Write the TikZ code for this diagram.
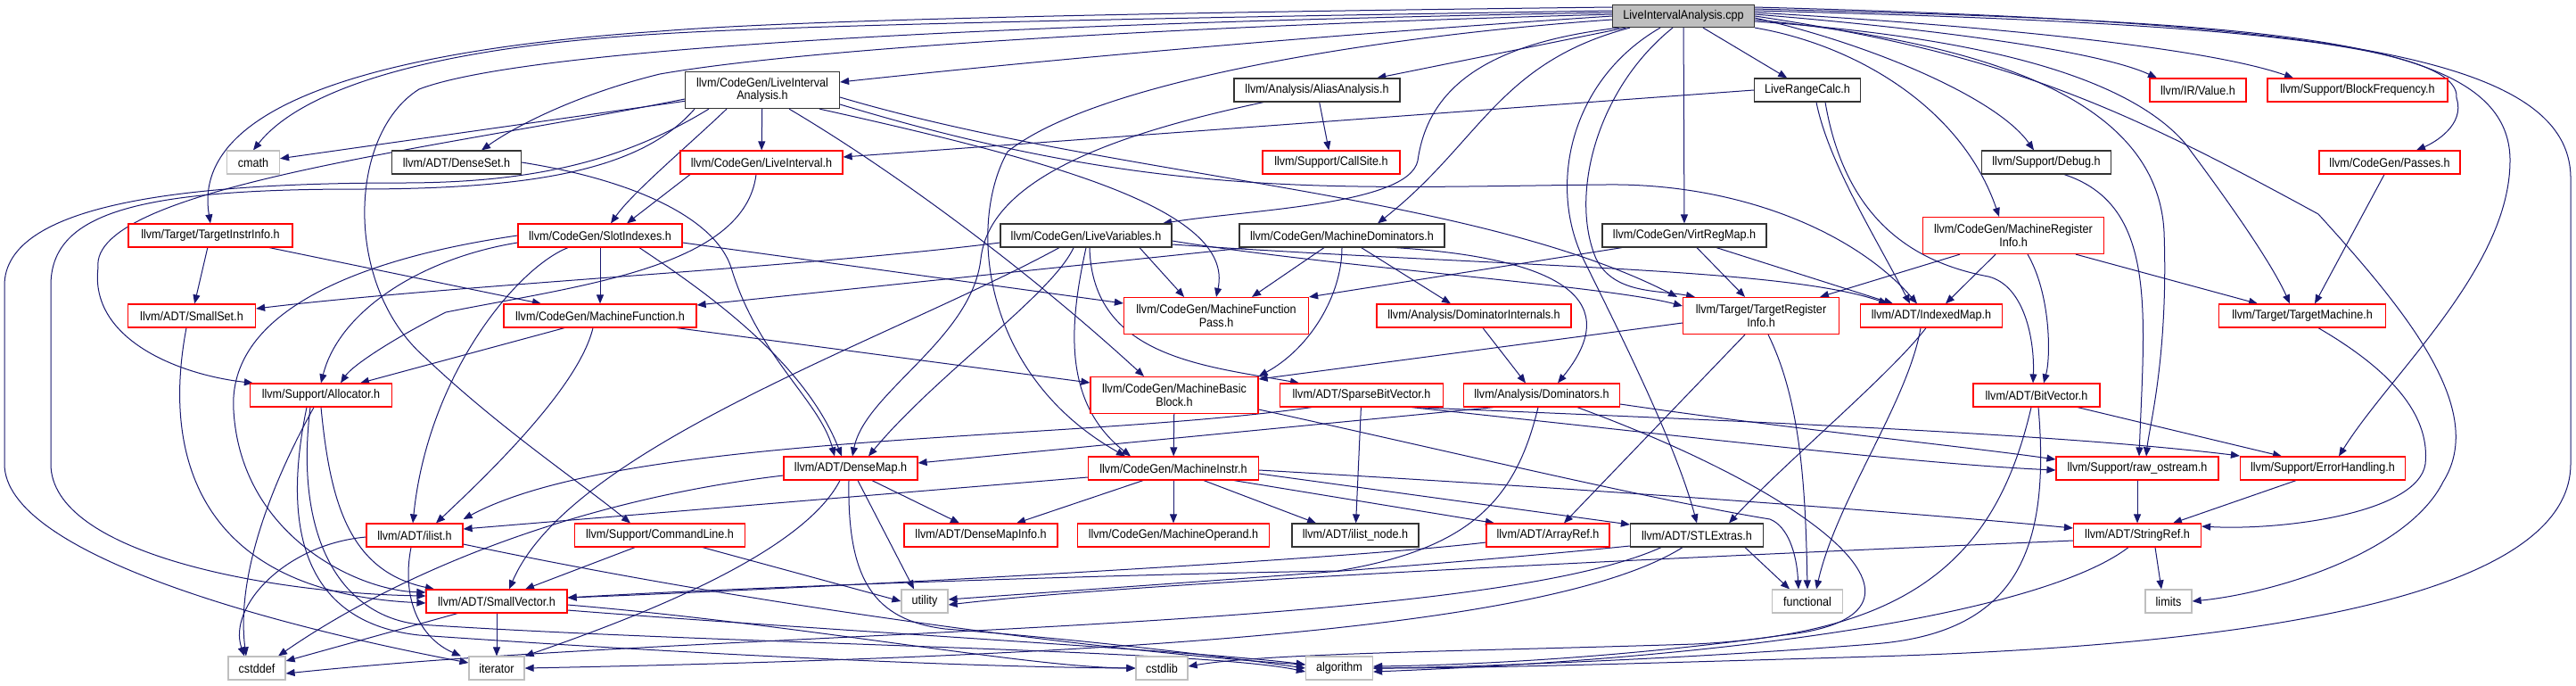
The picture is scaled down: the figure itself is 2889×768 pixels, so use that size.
\documentclass[tikz,border=0pt]{standalone}
\usepackage{fontspec}
\setmainfont{Liberation Sans}[FakeStretch=0.9]
\usetikzlibrary{arrows.meta}
\definecolor{edgec}{HTML}{191970}
\definecolor{grayb}{HTML}{BFBFBF}
\definecolor{redb}{HTML}{FF0000}
\pgfdeclarelayer{back}
\pgfdeclarelayer{bg}
\pgfsetlayers{back,bg,main}
\tikzset{
  nb/.style={draw, fill=white, line width=0.6pt, minimum height=13pt, inner sep=0pt,
    font=\fontsize{7}{7.3}\selectfont, align=center},
  rn/.style={nb, draw=redb},
  bn/.style={nb, draw=black!80},
  gn/.style={nb, draw=grayb},
  tl/.style={minimum height=20.5pt},
  ed/.style={draw=edgec, line width=0.5pt, -{Triangle[length=5pt,width=4pt]}}
}
\begin{document}
\begin{tikzpicture}[x=0.5pt,y=-0.5pt]
\useasboundingbox (0,0) rectangle (2889,768);
\begin{pgfonlayer}{back}
\fill[white] (0,0) rectangle (2889,768);
\end{pgfonlayer}
% nodes
\node[nb, draw=black!80, fill=grayb, minimum width=79.5pt, minimum height=12.5pt] (root) at (1888,18) {LiveIntervalAnalysis.cpp};
\node[bn, tl, minimum width=86.5pt] (lia) at (855,101) {llvm/CodeGen/LiveInterval\\Analysis.h};
\node[bn, minimum width=93pt] (aa) at (1477,101) {llvm/Analysis/AliasAnalysis.h};
\node[bn, minimum width=59.5pt] (lrc) at (2027,101) {LiveRangeCalc.h};
\node[rn, minimum width=54pt] (val) at (2465,101) {llvm/IR/Value.h};
\node[rn, minimum width=101pt] (bf) at (2644,101) {llvm/Support/BlockFrequency.h};
\node[gn, minimum width=29.5pt] (cmath) at (284,182) {cmath};
\node[bn, minimum width=72.5pt] (dset) at (512,182) {llvm/ADT/DenseSet.h};
\node[rn, minimum width=91pt] (li) at (854,182) {llvm/CodeGen/LiveInterval.h};
\node[rn, minimum width=77pt] (cs) at (1493,182) {llvm/Support/CallSite.h};
\node[bn, minimum width=72.5pt] (dbg) at (2295,182) {llvm/Support/Debug.h};
\node[rn, minimum width=79pt] (passes) at (2680,182) {llvm/CodeGen/Passes.h};
\node[rn, minimum width=92pt] (tii) at (236,264) {llvm/Target/TargetInstrInfo.h};
\node[rn, minimum width=92pt] (si) at (673,264) {llvm/CodeGen/SlotIndexes.h};
\node[bn, minimum width=96pt] (lv) at (1218,264) {llvm/CodeGen/LiveVariables.h};
\node[bn, minimum width=115pt] (md) at (1505,264) {llvm/CodeGen/MachineDominators.h};
\node[bn, minimum width=92pt] (vrm) at (1889,264) {llvm/CodeGen/VirtRegMap.h};
\node[rn, tl, minimum width=101.5pt] (mri) at (2258,264) {llvm/CodeGen/MachineRegister\\Info.h};
\node[rn, minimum width=71.5pt] (sset) at (215,354) {llvm/ADT/SmallSet.h};
\node[rn, minimum width=108pt] (mf) at (673,354) {llvm/CodeGen/MachineFunction.h};
\node[rn, tl, minimum width=103.5pt] (mfp) at (1364,354) {llvm/CodeGen/MachineFunction\\Pass.h};
\node[rn, minimum width=109pt] (di) at (1653,354) {llvm/Analysis/DominatorInternals.h};
\node[rn, tl, minimum width=87.5pt] (tri) at (1975,354) {llvm/Target/TargetRegister\\Info.h};
\node[rn, minimum width=79.5pt] (imap) at (2166,354) {llvm/ADT/IndexedMap.h};
\node[rn, minimum width=93.5pt] (tm) at (2582,354) {llvm/Target/TargetMachine.h};
\node[rn, minimum width=79.5pt] (alloc) at (360,443) {llvm/Support/Allocator.h};
\node[rn, tl, minimum width=94pt] (mbb) at (1317,443) {llvm/CodeGen/MachineBasic\\Block.h};
\node[rn, minimum width=91.5pt] (sbv) at (1527,443) {llvm/ADT/SparseBitVector.h};
\node[rn, minimum width=87.5pt] (dom) at (1729,443) {llvm/Analysis/Dominators.h};
\node[rn, minimum width=71pt] (bv) at (2284,443) {llvm/ADT/BitVector.h};
\node[rn, minimum width=75pt] (dmap) at (954,525) {llvm/ADT/DenseMap.h};
\node[rn, minimum width=95.5pt] (mi) at (1316,525) {llvm/CodeGen/MachineInstr.h};
\node[rn, minimum width=91pt] (rawos) at (2397,525) {llvm/Support/raw\_ostream.h};
\node[rn, minimum width=92.5pt] (eh) at (2605,525) {llvm/Support/ErrorHandling.h};
\node[rn, minimum width=54pt] (ilist) at (465,600) {llvm/ADT/ilist.h};
\node[rn, minimum width=95.5pt] (cl) at (740,600) {llvm/Support/CommandLine.h};
\node[rn, minimum width=86pt] (dmi) at (1100,600) {llvm/ADT/DenseMapInfo.h};
\node[rn, minimum width=107.5pt] (mo) at (1316,600) {llvm/CodeGen/MachineOperand.h};
\node[bn, minimum width=71pt] (iln) at (1520,600) {llvm/ADT/ilist\_node.h};
\node[rn, minimum width=69pt] (ar) at (1736,600) {llvm/ADT/ArrayRef.h};
\node[bn, minimum width=74.5pt] (stl) at (1903,600) {llvm/ADT/STLExtras.h};
\node[rn, minimum width=71.5pt] (sref) at (2397,600) {llvm/ADT/StringRef.h};
\node[rn, minimum width=79pt] (svec) at (557,674) {llvm/ADT/SmallVector.h};
\node[gn, minimum width=26pt] (utility) at (1037,674) {utility};
\node[gn, minimum width=39.5pt] (functional) at (2027,674) {functional};
\node[gn, minimum width=26pt] (limits) at (2432,674) {limits};
\node[gn, minimum width=32pt] (cstddef) at (288,749) {cstddef};
\node[gn, minimum width=31pt] (iterator) at (557,749) {iterator};
\node[gn, minimum width=29pt] (cstdlib) at (1303,749) {cstdlib};
\node[gn, minimum width=37.5pt] (algorithm) at (1502,749) {algorithm};

\begin{pgfonlayer}{bg}
% root, left side
\draw[ed] (root.west) .. controls (1400,45) and (1100,75) .. ([yshift=4.5pt]lia.east);
\draw[ed] ([yshift=3pt]root.west) .. controls (1300,20) and (900,28) .. (740,38) .. controls (450,55) and (330,110) .. (cmath.north);
\draw[ed] ([yshift=5pt]root.west) .. controls (1300,14) and (900,22) .. (740,35) .. controls (400,58) and (215,125) .. (tii.north);
\draw[ed] ([yshift=1pt]root.west) .. controls (1300,30) and (900,55) .. (740,83) .. controls (650,105) and (580,140) .. ([xshift=14pt]dset.north);
\draw[ed] ([yshift=2pt]root.west) .. controls (1200,25) and (600,50) .. (470,100) .. controls (390,150) and (385,320) .. (476,400) .. controls (560,480) and (650,540) .. ([xshift=-16.5pt]cl.north);
\draw[ed] ([yshift=-2pt]root.west) .. controls (1550,40) and (1230,90) .. (1130,170) .. controls (1085,250) and (1100,420) .. ([xshift=-27pt]mi.north);
\draw[ed] (root) -- (aa);
\draw[ed] (root) -- (lrc);
\draw[ed] (root) -- (vrm);
\draw[ed] ([xshift=-30pt]root.south) .. controls (1680,70) and (1660,160) .. ([xshift=20pt]md.north);
\draw[ed] ([xshift=-36pt]root.south) .. controls (1650,50) and (1600,110) .. (1590,180) .. controls (1580,230) and (1400,235) .. ([xshift=43pt]lv.north);
\draw[ed] ([xshift=-6pt]root.south) .. controls (1790,100) and (1760,220) .. (1790,290) .. controls (1810,330) and (1860,325) .. ([xshift=-37pt]tri.north);
\draw[ed] ([xshift=-13pt]root.south) .. controls (1760,90) and (1735,210) .. (1777,293) .. controls (1820,380) and (1880,500) .. (stl.north);
% root, right side
\draw[ed] ([yshift=1pt]root.east) .. controls (2200,35) and (2360,60) .. ([xshift=-23pt]val.north);
\draw[ed] ([yshift=2pt]root.east) .. controls (2250,30) and (2480,55) .. ([xshift=-36pt]bf.north);
\draw[ed] ([yshift=3pt]root.east) .. controls (2500,25) and (2760,50) .. (2755,110) .. controls (2765,140) and (2730,160) .. ([xshift=15pt]passes.north);
\draw[ed] ([yshift=4pt]root.east) .. controls (2550,25) and (2815,40) .. (2815,180) .. controls (2815,300) and (2680,420) .. ([xshift=9pt]eh.north);
\draw[ed] ([yshift=5pt]root.east) .. controls (2600,25) and (2883,60) .. (2883,200) -- (2883,520) .. controls (2883,640) and (2650,720) .. (2100,736) .. controls (1800,745) and (1650,749) .. (algorithm.east);
\draw[ed] (root.east) .. controls (2250,60) and (2380,120) .. (2600,240) .. controls (2700,350) and (2790,460) .. (2740,540) .. controls (2700,620) and (2550,665) .. (limits.east);
\draw[ed] ([yshift=-3pt]root.east) .. controls (2200,40) and (2380,80) .. (2450,160) .. controls (2510,240) and (2550,300) .. ([xshift=-7pt]tm.north);
\draw[ed] (root.south east) .. controls (2080,50) and (2200,120) .. ([xshift=-8pt]mri.north);
\draw[ed] ([yshift=-1pt]root.east) .. controls (2100,50) and (2240,110) .. ([xshift=-7pt]dbg.north);
\draw[ed] ([yshift=-2pt]root.east) .. controls (2250,50) and (2420,120) .. (2427,260) .. controls (2432,400) and (2410,480) .. ([xshift=5pt]rawos.north);
% LiveIntervalAnalysis.h
\draw[ed] (lia) -- (li);
\draw[ed] (lia) -- (cmath);
\draw[ed] ([yshift=-5pt]lia.west) .. controls (500,165) and (100,210) .. (110,300) .. controls (100,380) and (200,420) .. ([xshift=2pt]alloc.north west);
\draw[ed] ([xshift=-30pt]lia.south) .. controls (700,180) and (600,205) .. (450,205) .. controls (200,205) and (5,230) .. (5,320) -- (5,520) .. controls (5,620) and (300,700) .. ([yshift=3pt]iterator.west);
\draw[ed] ([xshift=-38pt]lia.south) .. controls (720,190) and (600,212) .. (400,212) .. controls (150,212) and (57,240) .. (57,320) -- (57,520) .. controls (57,620) and (300,665) .. ([yshift=3pt]svec.west);
\draw[ed] ([xshift=-20pt]lia.south) .. controls (770,165) and (710,215) .. ([xshift=6pt]si.north);
\draw[ed] ([xshift=15pt]lia.south) .. controls (1000,190) and (1150,300) .. ([xshift=-17pt]mbb.north);
\draw[ed] ([xshift=32pt]lia.south) .. controls (1180,180) and (1385,235) .. (mfp.north);
\draw[ed] ([yshift=-4pt]lia.east) .. controls (1250,200) and (1650,215) .. ([xshift=-47pt]tri.north);
\draw[ed] ([yshift=-8pt]lia.east) .. controls (1300,225) and (1500,210) .. (1800,207) .. controls (1950,205) and (2080,260) .. ([xshift=-8pt]imap.north);
% LiveInterval.h
\draw[ed] ([xshift=-40pt]li.south) -- ([xshift=15pt]si.north);
\draw[ed] ([xshift=-3pt]li.south) .. controls (835,300) and (650,320) .. (500,350) .. controls (440,380) and (395,410) .. ([xshift=11pt]alloc.north);
% LiveRangeCalc.h
\draw[ed] (lrc.west) -- ([yshift=3pt]li.east);
\draw[ed] ([xshift=5pt]lrc.south) .. controls (2050,180) and (2100,260) .. ([xshift=-12pt]imap.north);
\draw[ed] ([xshift=10pt]lrc.south) .. controls (2070,250) and (2150,295) .. (2230,310) .. controls (2270,320) and (2282,380) .. ([xshift=-2pt]bv.north);
% AliasAnalysis.h
\draw[ed] (aa) -- (cs);
\draw[ed] ([xshift=-30pt]aa.south) .. controls (1250,150) and (1110,200) .. (1100,290) .. controls (1090,380) and (970,440) .. ([xshift=1pt]dmap.north);
% DenseSet.h
\draw[ed] (dset.east) .. controls (700,200) and (800,240) .. (820,300) .. controls (850,400) and (920,450) .. ([xshift=-9pt]dmap.north);
% TargetInstrInfo.h
\draw[ed] (tii) -- (sset);
\draw[ed] (tii) -- (mf);
% SlotIndexes.h
\draw[ed] (si.west) .. controls (400,290) and (255,350) .. (262,460) .. controls (270,600) and (400,662) .. ([yshift=5pt]svec.west);
\draw[ed] ([yshift=-4pt]si.west) .. controls (470,290) and (380,350) .. (alloc.north);
\draw[ed] ([xshift=-18pt]si.south) .. controls (580,300) and (480,420) .. ([xshift=-1pt]ilist.north);
\draw[ed] (si) -- (mf);
\draw[ed] ([xshift=22pt]si.south) .. controls (780,320) and (900,400) .. ([xshift=-5pt]dmap.north);
\draw[ed] ([yshift=-4pt]si.east) -- ([yshift=7pt]mfp.west);
% SmallSet.h
\draw[ed] ([xshift=-3pt]sset.south) .. controls (180,520) and (230,665) .. ([yshift=-1pt]svec.west);
% MachineFunction.h
\draw[ed] ([xshift=-20pt]mf.south) -- ([xshift=22pt]alloc.north);
\draw[ed] ([xshift=-4pt]mf.south) .. controls (650,430) and (560,520) .. ([xshift=12pt]ilist.north);
\draw[ed] ([xshift=43pt]mf.south) -- ([yshift=7pt]mbb.west);
% LiveVariables.h
\draw[ed] ([yshift=-4pt]lv.west) .. controls (900,300) and (500,320) .. ([yshift=4pt]sset.east);
\draw[ed] ([xshift=-15pt]lv.south) .. controls (1000,380) and (640,500) .. ([xshift=7pt]svec.north);
\draw[ed] ([xshift=-7pt]lv.south) .. controls (1180,330) and (1050,420) .. ([xshift=10pt]dmap.north);
\draw[ed] (lv.south) .. controls (1200,360) and (1190,450) .. ([xshift=-24pt]mi.north);
\draw[ed] ([xshift=30pt]lv.south) -- ([xshift=-18pt]mfp.north);
\draw[ed] ([xshift=2pt]lv.south) .. controls (1225,400) and (1350,410) .. ([xshift=-35pt]sbv.north);
\draw[ed] ([yshift=-3pt]lv.east) .. controls (1500,300) and (1800,320) .. ([yshift=5.5pt]tri.west);
\draw[ed] ([yshift=-5pt]lv.east) .. controls (1700,300) and (2000,300) .. ([xshift=-24.5pt]imap.north);
% MachineDominators.h
\draw[ed] ([xshift=-53pt]md.south) -- ([yshift=6pt]mf.east);
\draw[ed] ([xshift=-10pt]md.south) -- ([xshift=20pt]mfp.north);
\draw[ed] (md) -- ([xshift=-13pt]di.north);
\draw[ed] ([xshift=30pt]md.south) .. controls (1760,290) and (1820,340) .. ([xshift=9pt]dom.north);
\draw[ed] (md.south) .. controls (1505,330) and (1470,390) .. (mbb.north east);
% VirtRegMap.h
\draw[ed] ([xshift=-35pt]vrm.south) -- (mfp.north east);
\draw[ed] ([xshift=7pt]vrm.south) -- ([xshift=-9pt]tri.north);
\draw[ed] ([xshift=18pt]vrm.south) -- ([xshift=-21.5pt]imap.north);
% MachineRegisterInfo.h
\draw[ed] ([xshift=-30pt]mri.south) -- ([xshift=33pt]tri.north);
\draw[ed] ([xshift=-10pt]mri.south) -- ([xshift=8pt]imap.north);
\draw[ed] ([xshift=8pt]mri.south) .. controls (2300,330) and (2300,400) .. ([xshift=4pt]bv.north);
\draw[ed] ([xshift=35pt]mri.south) -- ([xshift=-25pt]tm.north);
% Passes.h, TargetMachine.h, Debug.h
\draw[ed] ([xshift=-3pt]passes.south) -- ([xshift=7pt]tm.north);
\draw[ed] ([xshift=9pt]tm.south) .. controls (2690,420) and (2725,470) .. (2720,520) .. controls (2712,575) and (2560,595) .. ([yshift=5pt]sref.east);
\draw[ed] ([xshift=10pt]dbg.south) .. controls (2420,230) and (2405,350) .. ([xshift=1pt]rawos.north);
% DominatorInternals.h, Dominators.h
\draw[ed] ([xshift=5pt]di.south) -- ([xshift=-9pt]dom.north);
\draw[ed] ([xshift=-27pt]dom.south) -- ([yshift=3pt]dmap.east);
\draw[ed] ([xshift=-2pt]dom.south) .. controls (1700,560) and (1650,615) .. (1500,640) .. controls (1200,645) and (800,660) .. ([yshift=2pt]svec.east);
\draw[ed] ([yshift=-5pt]dom.east) .. controls (2000,480) and (2200,500) .. ([yshift=5pt]rawos.west);
\draw[ed] ([xshift=20pt]dom.south) .. controls (2050,560) and (2200,690) .. (2000,712) .. controls (1800,740) and (1620,746) .. ([yshift=1pt]algorithm.east);
% SparseBitVector.h
\draw[ed] (sbv) -- (iln);
\draw[ed] ([xshift=-28pt]sbv.south) .. controls (1200,495) and (700,485) .. ([yshift=9pt]ilist.east);
\draw[ed] ([xshift=30pt]sbv.south) .. controls (1900,470) and (2300,485) .. ([yshift=7pt]eh.west);
\draw[ed] ([xshift=28pt]sbv.south) .. controls (1900,490) and (2150,520) .. ([yshift=-1pt]rawos.west);
% MachineBasicBlock.h
\draw[ed] (mbb) -- (mi);
\draw[ed] ([yshift=-8pt]mbb.east) .. controls (1600,500) and (1850,560) .. (1985,582) .. controls (2005,590) and (2015,620) .. ([xshift=-5pt]functional.north);
% MachineInstr.h
\draw[ed] ([xshift=-17pt]mi.south) -- ([xshift=20pt]dmi.north);
\draw[ed] (mi) -- (mo);
\draw[ed] ([yshift=-5pt]mi.west) -- ([yshift=3.5pt]ilist.east);
\draw[ed] ([xshift=17pt]mi.south) -- ([xshift=-22pt]iln.north);
\draw[ed] ([xshift=34pt]mi.south) -- ([xshift=-30pt]ar.north);
\draw[ed] ([yshift=-3pt]mi.east) -- ([yshift=6pt]stl.west);
\draw[ed] ([yshift=-1pt]mi.east) .. controls (1900,555) and (2200,580) .. ([yshift=4pt]sref.west);
% DenseMap.h
\draw[ed] ([xshift=12pt]dmap.south) -- ([xshift=-12pt]dmi.north);
\draw[ed] ([xshift=4pt]dmap.south) -- ([xshift=-6pt]utility.north);
\draw[ed] ([xshift=-1pt]dmap.south) .. controls (950,650) and (980,695) .. (1060,705) .. controls (1250,720) and (1400,740) .. (algorithm.west);
\draw[ed] ([xshift=-6pt]dmap.south) .. controls (900,620) and (720,690) .. (iterator.north east);
\draw[ed] ([yshift=-4pt]dmap.west) .. controls (650,560) and (450,640) .. ([xshift=12pt]cstddef.north);
% ilist.h
\draw[ed] ([yshift=-1pt]ilist.west) .. controls (320,610) and (255,680) .. ([xshift=-7pt]cstddef.north);
\draw[ed] ([xshift=-2pt]ilist.south) .. controls (450,670) and (470,715) .. ([xshift=-20pt]iterator.north);
\draw[ed] ([yshift=-5pt]ilist.east) .. controls (900,690) and (1300,735) .. ([yshift=2pt]algorithm.west);
% Allocator.h
\draw[ed] ([xshift=-4pt]alloc.south) .. controls (300,550) and (265,650) .. ([xshift=-6pt]cstddef.north);
\draw[ed] (alloc.south) .. controls (370,560) and (390,640) .. ([xshift=-35pt]svec.north);
\draw[ed] ([xshift=-6pt]alloc.south) .. controls (330,600) and (380,690) .. (470,700) .. controls (800,722) and (1350,728) .. ([yshift=-2pt]algorithm.west);
\draw[ed] ([xshift=-8pt]alloc.south) .. controls (310,620) and (360,700) .. (470,712) .. controls (800,735) and (1100,748) .. (cstdlib.west);
% SmallVector.h
\draw[ed] ([xshift=-22pt]svec.south) -- ([yshift=4pt]cstddef.east);
\draw[ed] (svec) -- (iterator);
\draw[ed] ([yshift=-5pt]svec.east) .. controls (900,705) and (1350,730) .. ([yshift=2pt]algorithm.west);
\draw[ed] ([yshift=-2pt]svec.east) .. controls (900,700) and (1150,748) .. (cstdlib.west);
% CommandLine.h
\draw[ed] ([xshift=-14pt]cl.south) -- ([xshift=16pt]svec.north);
\draw[ed] ([xshift=24pt]cl.south) -- (utility.west);
% ArrayRef.h
\draw[ed] ([yshift=-4pt]ar.west) .. controls (1500,628) and (900,660) .. ([yshift=2pt]svec.east);
% STLExtras.h
\draw[ed] ([xshift=27pt]stl.south) -- ([xshift=-10pt]functional.north);
\draw[ed] ([yshift=-6pt]stl.west) .. controls (1600,635) and (1300,655) .. ([yshift=1pt]utility.east);
\draw[ed] ([xshift=-20pt]stl.south) .. controls (1650,710) and (800,705) .. ([yshift=-3pt]cstddef.east);
\draw[ed] ([xshift=-8pt]stl.south) .. controls (1750,700) and (1300,735) .. (iterator.east);
% StringRef.h, raw_ostream.h, ErrorHandling.h
\draw[ed] ([xshift=10pt]sref.south) -- ([xshift=-4pt]limits.north);
\draw[ed] ([xshift=-5pt]sref.south) .. controls (2300,680) and (2000,735) .. ([yshift=-2pt]algorithm.east);
\draw[ed] ([yshift=-3pt]sref.west) .. controls (2000,620) and (1300,650) .. ([yshift=-2pt]utility.east);
\draw[ed] (rawos) -- (sref);
\draw[ed] ([xshift=-15pt]eh.south) -- ([xshift=20pt]sref.north);
% BitVector.h
\draw[ed] ([xshift=23pt]bv.south) -- ([xshift=-23pt]eh.north);
\draw[ed] ([xshift=-3pt]bv.south) .. controls (2240,620) and (2150,710) .. (1900,722) .. controls (1650,730) and (1420,732) .. ([yshift=1pt]cstdlib.east);
\draw[ed] ([xshift=1pt]bv.south) .. controls (2300,620) and (2260,710) .. (2100,722) .. controls (1900,738) and (1650,748) .. (algorithm.east);
% IndexedMap.h
\draw[ed] ([xshift=-3pt]imap.south) .. controls (2120,420) and (2000,520) .. ([xshift=18pt]stl.north);
\draw[ed] ([xshift=-6pt]imap.south) .. controls (2140,450) and (2060,560) .. ([xshift=5pt]functional.north);
% TargetRegisterInfo.h
\draw[ed] ([yshift=-4pt]tri.west) -- ([yshift=9pt]mbb.east);
\draw[ed] ([xshift=-9pt]tri.south) -- ([xshift=9pt]ar.north);
\draw[ed] ([xshift=4pt]tri.south) .. controls (2020,450) and (2025,550) .. (functional.north);
\end{pgfonlayer}
\end{tikzpicture}
\end{document}
